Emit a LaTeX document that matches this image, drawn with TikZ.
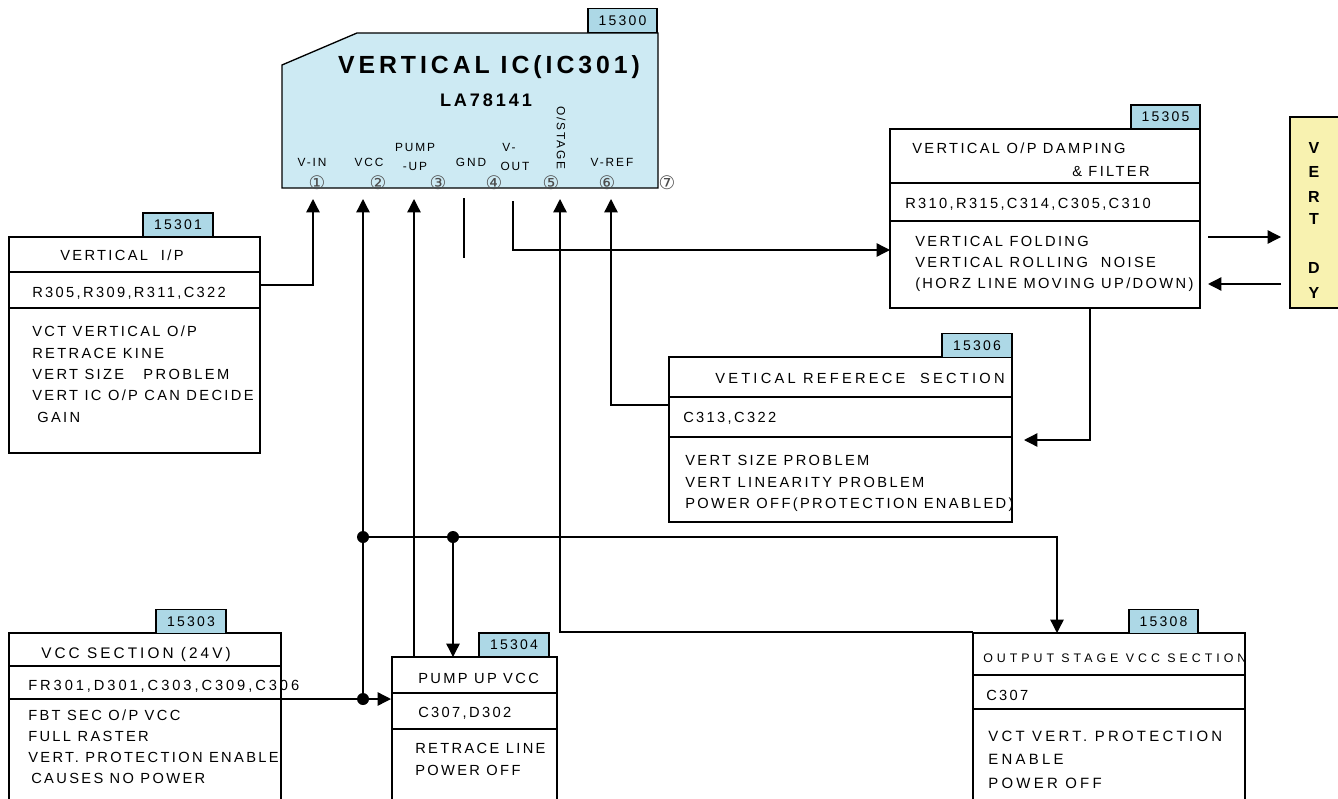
\documentclass[tikz,border=0pt]{standalone}
\usepackage{fontspec}
\setmainfont{Liberation Sans}[LetterSpace=16]
\newfontfamily\circfont{DejaVu Sans}
\newfontfamily\wideletters{Liberation Sans}[LetterSpace=32]
\usetikzlibrary{arrows.meta,fit}
\definecolor{icblue}{RGB}{205,234,243}
\definecolor{tagblue}{RGB}{173,216,230}
\definecolor{dyyellow}{RGB}{248,242,176}

\begin{document}
\begin{tikzpicture}[x=0.75pt,y=-0.75pt,
  row/.style={draw,line width=1pt,inner sep=0pt,fit={#1}},
  tag box/.style={draw,line width=1.4pt,fill=tagblue,inner sep=0pt,minimum width=52pt,minimum height=18pt,font=\fontsize{10.5}{12}\selectfont},
  txt/.style={anchor=west,inner sep=0pt,text height=7.8pt,text depth=0pt,font=\fontsize{11}{13}\selectfont},
  pin/.style={inner sep=0pt,font=\fontsize{8.9}{10}\selectfont},
  num/.style={inner sep=0pt,text=black!70,font=\circfont\fontsize{14}{15}\selectfont},
  dy letter/.style={inner sep=0pt,font=\bfseries\fontsize{12}{14}\selectfont},
  conn/.style={line width=1pt},
  arr/.style={line width=1pt,-{Triangle[length=10pt,width=10pt]}},
  dot/.style={circle,fill,inner sep=0pt,minimum size=9pt}]

\useasboundingbox (0,0) rectangle (1338,799);
\clip (0,0) rectangle (1338,799);

\draw[fill=icblue,line width=1pt] (282,65) -- (357,33) -- (658,33) -- (658,188) -- (282,188) -- cycle;
\node[tag box] (tag ic) at (622.5,20.5) {15300};
\node[inner sep=0pt,font=\bfseries\fontsize{18.6}{21}\selectfont] (ic title) at (489,67) {VERTICAL IC(IC301)};
\node[inner sep=0pt,font=\bfseries\fontsize{13.6}{15}\selectfont] (ic part) at (486,100) {LA78141};

\node[pin] (lbl vin) at (312,162) {V-IN};
\node[pin] (lbl vcc) at (369,162) {VCC};
\node[pin] (lbl pump a) at (415,147) {PUMP};
\node[pin] (lbl pump b) at (415,166) {-UP};
\node[pin] (lbl gnd) at (471,162) {GND};
\node[pin] (lbl vout a) at (509,147) {V-};
\node[pin] (lbl vout b) at (515,166) {OUT};
\node[pin,rotate=-90] (lbl ostage) at (561,138) {O/STAGE};
\node[pin] (lbl vref) at (612,162) {V-REF};

\node[num] (num1) at (317,183) {①};
\node[num] (num2) at (378,183) {②};
\node[num] (num3) at (438,183) {③};
\node[num] (num4) at (494,183) {④};
\node[num] (num5) at (551,183) {⑤};
\node[num] (num6) at (607,183) {⑥};
\node[num] (num7) at (667,183) {⑦};

\node[row={(9,237) (260,272)}] (vin head) {};
\node[row={(9,272) (260,308)}] (vin comp) {};
\node[row={(9,308) (260,453)}] (vin desc) {};
\node[tag box] (tag vin) at (178,225) {15301};
\node[txt] (vin t1) at (60,255) {VERTICAL\ \ I/P};
\node[txt] (vin t2) at (32,292) {R305,R309,R311,C322};
\node[txt] (vin t3) at (32,331) {VCT VERTICAL O/P};
\node[txt] (vin t4) at (32,353) {RETRACE KINE};
\node[txt] (vin t5) at (32,374) {VERT SIZE\ \ \ PROBLEM};
\node[txt] (vin t6) at (32,395) {VERT IC O/P CAN DECIDE};
\node[txt] (vin t7) at (37,417) {GAIN};

\node[row={(890,129) (1200,183)}] (damp head) {};
\node[row={(890,183) (1200,221)}] (damp comp) {};
\node[row={(890,221) (1200,308)}] (damp desc) {};
\node[tag box] (tag damp) at (1165.5,117) {15305};
\node[txt] (damp t1) at (912,148) {VERTICAL O/P DAMPING};
\node[txt] (damp t2) at (1072,171) {\& FILTER};
\node[txt] (damp t3) at (905,203) {R310,R315,C314,C305,C310};
\node[txt] (damp t4) at (915,241) {VERTICAL FOLDING};
\node[txt] (damp t5) at (915,262) {VERTICAL ROLLING\ \ NOISE};
\node[txt] (damp t6) at (915,283) {(HORZ LINE MOVING UP/DOWN)};

\node[draw,line width=1pt,fill=dyyellow,fit={(1290,117) (1345,308)},inner sep=0pt] (dy) {};
\node[dy letter] (dy v) at (1314,148) {V};
\node[dy letter] (dy e) at (1314,172) {E};
\node[dy letter] (dy r) at (1314,197) {R};
\node[dy letter] (dy t) at (1314,219) {T};
\node[dy letter] (dy d) at (1314,268) {D};
\node[dy letter] (dy y) at (1314,293) {Y};

\node[row={(669,357) (1012,397)}] (ref head) {};
\node[row={(669,397) (1012,437)}] (ref comp) {};
\node[row={(669,437) (1012,522)}] (ref desc) {};
\node[tag box] (tag ref) at (977,345.5) {15306};
\node[txt,font=\addfontfeature{LetterSpace=22}\fontsize{11}{13}\selectfont] (ref t1) at (715,378) {VETICAL REFERECE\ \ SECTION};
\node[txt] (ref t2) at (683,417) {C313,C322};
\node[txt] (ref t3) at (685,460) {VERT SIZE PROBLEM};
\node[txt] (ref t4) at (685,482) {VERT LINEARITY PROBLEM};
\node[txt] (ref t5) at (685,503) {POWER OFF(PROTECTION ENABLED)};

\node[row={(9,633) (281,666)}] (vcc head) {};
\node[row={(9,666) (281,699)}] (vcc comp) {};
\node[row={(9,699) (281,810)}] (vcc desc) {};
\node[tag box] (tag vcc) at (191,621.5) {15303};
\node[txt,font=\addfontfeature{LetterSpace=20}\fontsize{11.5}{13}\selectfont] (vcc t1) at (41,653) {VCC SECTION (24V)};
\node[txt,font=\addfontfeature{LetterSpace=20}\fontsize{11}{13}\selectfont] (vcc t2) at (28,685) {FR301,D301,C303,C309,C306};
\node[txt] (vcc t3) at (28,715) {FBT SEC O/P VCC};
\node[txt] (vcc t4) at (28,736) {FULL RASTER};
\node[txt] (vcc t5) at (28,757) {VERT. PROTECTION ENABLE};
\node[txt] (vcc t6) at (31,778) {CAUSES NO POWER};

\node[row={(392,657) (557,693)}] (pump head) {};
\node[row={(392,693) (557,729)}] (pump comp) {};
\node[row={(392,729) (557,810)}] (pump desc) {};
\node[tag box] (tag pump) at (514,645) {15304};
\node[txt] (pump t1) at (418,678) {PUMP UP VCC};
\node[txt] (pump t2) at (418,712) {C307,D302};
\node[txt] (pump t3) at (415,748) {RETRACE LINE};
\node[txt] (pump t4) at (415,770) {POWER OFF};

\node[row={(973,633) (1245,675)}] (out head) {};
\node[row={(973,675) (1245,709)}] (out comp) {};
\node[row={(973,709) (1245,810)}] (out desc) {};
\node[tag box] (tag out) at (1163.5,621.5) {15308};
\node[txt,text height=6.6pt,font=\wideletters\fontsize{9.3}{11}\selectfont] (out t1) at (983,658) {OUTPUT STAGE VCC SECTION};
\node[txt] (out t2) at (986,695) {C307};
\node[txt,font=\addfontfeature{LetterSpace=22}\fontsize{11.2}{13}\selectfont] (out t3) at (988,736) {VCT VERT. PROTECTION};
\node[txt,font=\addfontfeature{LetterSpace=22}\fontsize{11.2}{13}\selectfont] (out t4) at (988,759) {ENABLE};
\node[txt,font=\addfontfeature{LetterSpace=22}\fontsize{11.2}{13}\selectfont] (out t5) at (988,783) {POWER OFF};

\coordinate (vin pin) at (313,199);
\coordinate (vcc pin) at (363,199);
\coordinate (pump pin) at (414,199);
\coordinate (gnd pin) at (464,198);
\coordinate (gnd end) at (464,258);
\coordinate (vout pin) at (513,201);
\coordinate (ostage pin) at (560,199);
\coordinate (vref pin) at (611,199);
\coordinate (vin out) at (260,285);
\coordinate (damp in) at (890,250);
\coordinate (ref out) at (669,405);
\coordinate (damp out) at (1090,308);
\coordinate (ref in) at (1024,440);
\coordinate (vcc out) at (8,699);
\coordinate (pump in) at (391,699);
\coordinate (pump top) at (453,657);
\coordinate (pump up out) at (414,657);
\coordinate (out top) at (1057,633);
\coordinate (out left) at (973,632);
\coordinate (dy out) at (1208,237);
\coordinate (dy in) at (1281,237);
\coordinate (dy back) at (1281,284);
\coordinate (damp back) at (1208,284);

\node[dot] (j vcc) at (363,537) {};
\node[dot] (j pump) at (453,537) {};
\node[dot] (j sec) at (363,699) {};

\draw[arr] (vin out) -| (vin pin);
\draw[arr] (vout pin) |- (damp in);
\draw[arr] (out left) -| (ostage pin);
\draw[arr] (ref out) -| (vref pin);
\draw[arr] (j vcc.center) -| (out top);
\draw[arr] (damp out) |- (ref in);

\path[] (j sec.center) [arr] edge node [] {} (vcc pin);
\path[] (pump up out) [arr] edge node [] {} (pump pin);
\path[] (gnd pin) [conn] edge node [] {} (gnd end);
\path[] (j pump) [arr] edge node [] {} (pump top);
\path[] (vcc out) [arr] edge node [] {} (pump in);
\path[] (dy out) [arr] edge node [] {} (dy in);
\path[] (dy back) [arr] edge node [] {} (damp back);
\end{tikzpicture}
\end{document}
